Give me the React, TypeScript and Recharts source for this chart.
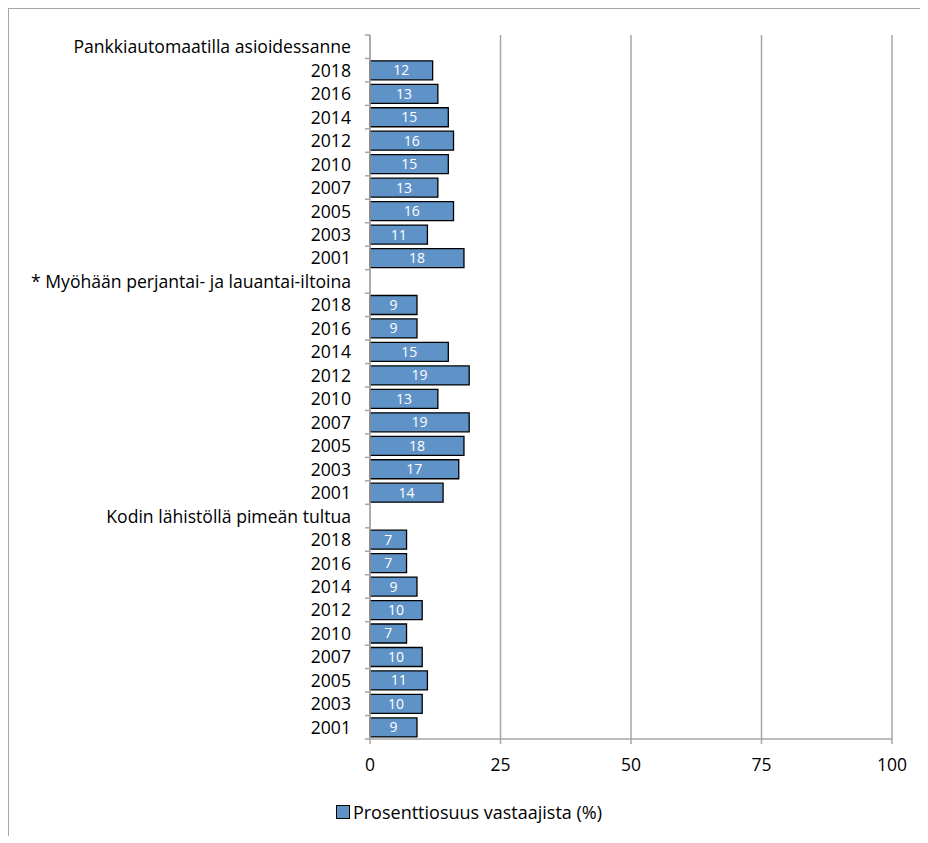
import React from 'react';
import { BarChart, Bar, XAxis, YAxis, CartesianGrid, Legend, LabelList } from 'recharts';

const groups = [
  'Pankkiautomaatilla asioidessanne',
  '* Myöhään perjantai- ja lauantai-iltoina',
  'Kodin lähistöllä pimeän tultua',
];
const years = ['2018', '2016', '2014', '2012', '2010', '2007', '2005', '2003', '2001'];
const atmValues = [12, 13, 15, 16, 15, 13, 16, 11, 18];
const weekendValues = [9, 9, 15, 19, 13, 19, 18, 17, 14];
const homeValues = [7, 7, 9, 10, 7, 10, 11, 10, 9];
const xTicks = [0, 25, 50, 75, 100];
const seriesName = 'Prosenttiosuus vastaajista (%)';

const groupValues = [atmValues, weekendValues, homeValues];

const data: { id: string; label: string; value: number | null }[] = [];
groups.forEach((g, gi) => {
  data.push({ id: `g${gi}`, label: g, value: null });
  years.forEach((y, yi) => {
    data.push({ id: `g${gi}-${y}`, label: y, value: groupValues[gi][yi] });
  });
});

const FONT = '"Open Sans", sans-serif';
const BLUE = '#5f93c8';
const GRID = '#a6a6a6';

const W = 920;
const H = 827;
const M = { top: 26, right: 37, bottom: 67, left: 0 };
const Y_W = 361;
const X_H = 30;
const plotH = H - M.top - M.bottom - X_H;
const band = plotH / data.length;

const YTick = (props: any) => {
  const { x, y, payload, index } = props;
  const row = data[payload.index ?? index];
  const axisX = Y_W;
  return (
    <g>
      <line x1={axisX - 5} x2={axisX} y1={y - band / 2} y2={y - band / 2} stroke={GRID} strokeWidth={1.5} />
      {index === data.length - 1 && (
        <line x1={axisX - 5} x2={axisX} y1={y + band / 2} y2={y + band / 2} stroke={GRID} strokeWidth={1.5} />
      )}
      <text x={x} y={y} dy={6.5} textAnchor="end" fontSize={17.6} fontFamily={FONT} fill="#000">
        {row ? row.label : ''}
      </text>
    </g>
  );
};

const LegendBox = () => (
  <div style={{ display: 'flex', justifyContent: 'center', alignItems: 'center', fontFamily: FONT, fontSize: 18 }}>
    <span style={{ display: 'inline-block', width: 12, height: 12, background: BLUE, border: '1.5px solid #000', marginRight: 3 }} />
    <span>{seriesName}</span>
  </div>
);

export default function App() {
  return (
    <div style={{ width: 930, height: 827, borderTop: '1.5px solid #a6a6a6', borderLeft: '1.5px solid #a6a6a6', overflow: 'hidden' }}>
      <BarChart width={W} height={H} data={data} layout="vertical" margin={M} barCategoryGap="10%">
        <CartesianGrid horizontal={false} stroke={GRID} strokeWidth={1.5} />
        <XAxis
          type="number"
          domain={[0, 100]}
          ticks={xTicks}
          height={X_H}
          stroke={GRID}
          strokeWidth={1.5}
          tickSize={5}
          tickMargin={15}
          tick={{ fill: '#000', fontSize: 17.5, fontFamily: FONT }}
        />
        <YAxis
          type="category"
          dataKey="id"
          width={Y_W}
          stroke={GRID}
          strokeWidth={1.5}
          tickLine={false}
          tickMargin={13}
          interval={0}
          tick={<YTick />}
        />
        <Legend
          layout="horizontal"
          verticalAlign="middle"
          align="center"
          content={<LegendBox />}
          wrapperStyle={{ top: 791, left: 0, width: W }}
        />
        <Bar dataKey="value" name={seriesName} fill={BLUE} stroke="#000" strokeWidth={1.3} isAnimationActive={false}>
          <LabelList
            dataKey="value"
            position="center"
            fill="#fff"
            fontSize={14}
            fontFamily={FONT}
            formatter={(v: any) => (v == null ? '' : v)}
          />
        </Bar>
      </BarChart>
    </div>
  );
}
